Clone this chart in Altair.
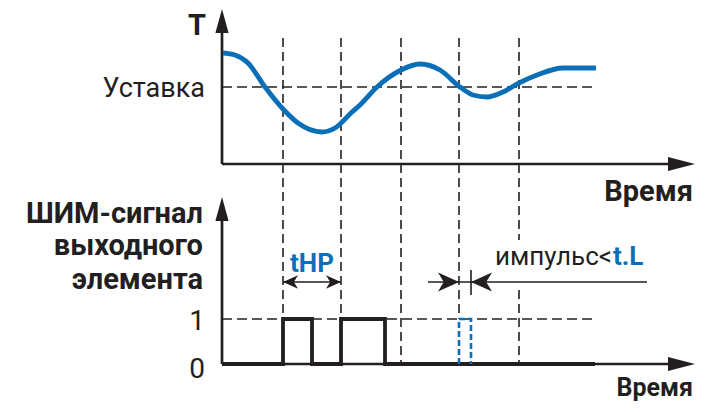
import altair as alt
import pandas as pd

INK = "#231f20"
BLUE = "#0b6fb8"
FONT = "Roboto"

# ---- data (diagram units: x = time from the Y axis, y = height above the lower time axis)
guide_t = [61, 119, 179, 237, 297, 297]          # vertical dashed guides
guide_top = [326, 326, 326, 326, 326, 74]
guide_bot = [45, 45, 0, 45, 124, 0]

setpoint_y = 277
level_one_y = 45

curve_t = [1, 13, 26, 43, 61, 76, 100, 113, 130, 138, 155, 179, 198, 218, 238,
           251, 265, 281, 297, 315, 341, 374]
curve_y = [311, 309, 301, 277, 255, 241, 232, 236, 252, 259, 277, 294, 300, 294,
           277, 269, 267, 272, 281, 289, 296, 296]

pwm_t = [0, 61, 61, 90, 90, 119, 119, 163, 163, 373]
pwm_v = [0, 0, 1, 1, 0, 0, 1, 1, 0, 0]

short_t = [237, 237, 249, 249]
short_v = [0, 1, 1, 0]

xs = alt.Scale(domain=[-214, 481], nice=False, zero=False)
ys = alt.Scale(domain=[-40, 356], nice=False, zero=False)
X = lambda f="x": alt.X(f"{f}:Q", scale=xs, axis=None)
Y = lambda f="y": alt.Y(f"{f}:Q", scale=ys, axis=None)

layers = []

# dashed guides
vdf = pd.DataFrame({"x": guide_t, "y": guide_top, "y2": guide_bot})
layers.append(alt.Chart(vdf).mark_rule(color=INK, strokeWidth=1.6, strokeDash=[9, 5]).encode(
    x=X(), y=Y(), y2="y2:Q"))
hdf = pd.DataFrame({"x": [0, 0], "x2": [375, 373], "y": [setpoint_y, level_one_y]})
layers.append(alt.Chart(hdf).mark_rule(color=INK, strokeWidth=1.6, strokeDash=[10, 5]).encode(
    x=X(), x2="x2:Q", y=Y()))

# axes
adf = pd.DataFrame({"x": [0, 0, 0, 0], "x2": [0, 452, 0, 452],
                    "y": [200, 200, 0, 0], "y2": [334, 200, 146, 0]})
layers.append(alt.Chart(adf).mark_rule(color=INK, strokeWidth=2.7).encode(
    x=X(), x2="x2:Q", y=Y(), y2="y2:Q"))

# dimension lines
ddf = pd.DataFrame({"x": [61, 206, 249], "x2": [119, 425, 249], "y": [82, 82, 94], "y2": [82, 82, 69]})
layers.append(alt.Chart(ddf).mark_rule(color=INK, strokeWidth=1.6).encode(
    x=X(), x2="x2:Q", y=Y(), y2="y2:Q"))

# temperature curve
cdf = pd.DataFrame({"x": curve_t, "y": curve_y, "i": range(len(curve_t))})
layers.append(alt.Chart(cdf).mark_line(color=BLUE, strokeWidth=4.8, interpolate="monotone").encode(
    x=X(), y=Y(), order="i:Q"))

# PWM signal
pdf = pd.DataFrame({"x": pwm_t, "y": [v * level_one_y for v in pwm_v], "i": range(len(pwm_t))})
layers.append(alt.Chart(pdf).mark_line(color=INK, strokeWidth=3.8, strokeJoin="miter").encode(
    x=X(), y=Y(), order="i:Q"))
sdf = pd.DataFrame({"x": short_t, "y": [v * level_one_y for v in short_v], "i": range(len(short_t))})
layers.append(alt.Chart(sdf).mark_line(color=BLUE, strokeWidth=2.6, strokeDash=[6, 3]).encode(
    x=X(), y=Y(), order="i:Q"))

# arrowheads
UP = "M0,-1L0.55,1L-0.55,1Z"
RIGHT = "M1,0L-1,0.52L-1,-0.52Z"
N_RIGHT = "M1,0L-1,-0.9L-0.45,0L-1,0.9Z"
N_LEFT = "M-1,0L1,-0.9L0.45,0L1,0.9Z"


def heads(xv, yv, shape, size):
    d = pd.DataFrame({"x": xv, "y": yv})
    return alt.Chart(d).mark_point(shape=shape, size=size, filled=True, opacity=1,
                                   color=INK, strokeWidth=0).encode(x=X(), y=Y())


layers.append(heads([0, 0], [343, 155], UP, 576))
layers.append(heads([459.5, 459.5], [200, 0], RIGHT, 729))
layers.append(heads([68.5], [82], N_LEFT, 225))
layers.append(heads([111.5], [82], N_RIGHT, 225))
layers.append(heads([226.5], [82], N_RIGHT, 441))
layers.append(heads([259.5], [82], N_LEFT, 441))


# texts
def label(xv, yv, texts, align, size, weight="normal", color=INK):
    d = pd.DataFrame({"x": xv, "y": yv, "t": texts})
    return alt.Chart(d).mark_text(align=align, baseline="alphabetic", font=FONT, fontSize=size,
                                  fontWeight=weight, color=color).encode(x=X(), y=Y(), text="t:N")


layers.append(label([-25], [329], ["T"], "center", 29, "bold"))
layers.append(label([-17], [267], ["Уставка"], "right", 27))
layers.append(label([471], [163], ["Время"], "right", 29, "bold"))
layers.append(label([471], [-32], ["Время"], "right", 25, "bold"))
layers.append(label([-19, -19, -19], [141, 109, 75], ["ШИМ-сигнал", "выходного", "элемента"],
                    "right", 29, "bold"))
layers.append(label([-25, -25], [34, -14], ["1", "0"], "center", 28))
layers.append(label([90], [92], ["tHP"], "center", 26, "bold", BLUE))
layers.append(label([390], [99], ["импульс<"], "right", 26))
layers.append(label([391], [99], ["t.L"], "left", 26, "bold", BLUE))

chart = alt.layer(*layers).properties(
    width=695, height=396, autosize=alt.AutoSizeParams(type="none"), padding=0
).configure_view(stroke=None)

chart.save("out.html", embed_options={"renderer": "svg", "actions": False})
